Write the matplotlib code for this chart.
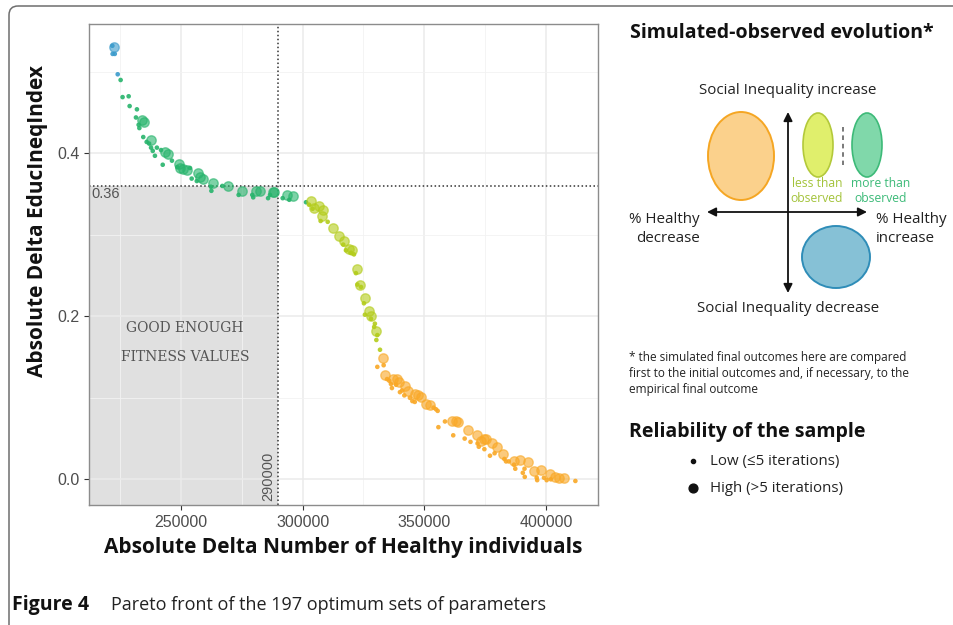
import numpy as np
import matplotlib.pyplot as plt
from matplotlib.patches import Ellipse, FancyBboxPatch, Rectangle

plt.rcParams['font.family'] = ['Open Sans', 'DejaVu Sans']

# Pareto front points
healthy = [222600, 221800, 221900, 222800, 224000, 225200,
           226000, 228500, 228900, 231900, 231500, 234000, 234700, 232600, 232900,
           234500, 237600, 235900, 236900, 237700, 238400, 239300, 240100, 241800,
           243600, 244700, 242500, 246300, 249100, 249600, 251000, 252300, 248500,
           253700, 256900, 257800, 259200, 254400, 256500, 263000, 262300, 262500,
           267000, 269300, 275000, 273700, 280700, 282600, 279300, 279700, 287700,
           288200, 285800, 286600, 293400, 295900, 291800, 294500, 301400,
           303400, 302600, 304800, 306600, 308200, 304100, 308100, 307400, 310300,
           312600, 314900, 317000, 316700, 319100, 320200, 317800, 319900, 321100,
           322200, 321900, 323600, 322500, 324000, 325800, 325200, 327400, 328000,
           325600, 328100, 329700, 329400, 330200, 330700, 330300, 331800,
           332900, 333300, 330700, 333700, 334700, 335600, 337100, 338600, 339600,
           336300, 336700, 338400, 342000, 340900, 340000, 343300, 341800, 346100,
           347500, 348600, 344100, 345100, 346100, 350700, 352300, 353800, 354800,
           355500, 358500, 361300, 362900, 363900, 355800, 361900, 368000, 366600,
           369000, 371500, 373300, 374700, 375400, 371900, 372400, 374700, 377700,
           379800, 377000, 378900, 382200, 382900, 383600, 384700, 387000, 389500,
           392600, 386900, 387400, 391200, 390500, 391300, 394900, 398100, 396200,
           396400, 401700, 399200, 400300, 402000, 403800, 405500, 407300, 412100]
educ = [0.531, 0.532, 0.522, 0.522, 0.497, 0.490,
        0.469, 0.470, 0.458, 0.454, 0.444, 0.441, 0.438, 0.435, 0.431,
        0.420, 0.416, 0.414, 0.412, 0.407, 0.403, 0.397, 0.407, 0.404,
        0.402, 0.399, 0.386, 0.391, 0.387, 0.382, 0.381, 0.380, 0.383,
        0.382, 0.376, 0.371, 0.369, 0.369, 0.366, 0.364, 0.359, 0.354,
        0.360, 0.360, 0.354, 0.349, 0.354, 0.354, 0.349, 0.346, 0.352,
        0.353, 0.345, 0.349, 0.349, 0.348, 0.345, 0.343, 0.340,
        0.341, 0.337, 0.333, 0.335, 0.330, 0.332, 0.323, 0.317, 0.316,
        0.309, 0.299, 0.293, 0.288, 0.283, 0.282, 0.281, 0.278, 0.276,
        0.258, 0.253, 0.238, 0.239, 0.236, 0.223, 0.216, 0.206, 0.201,
        0.202, 0.197, 0.191, 0.187, 0.182, 0.177, 0.171, 0.159,
        0.149, 0.140, 0.138, 0.128, 0.123, 0.121, 0.123, 0.123, 0.119,
        0.117, 0.112, 0.116, 0.114, 0.109, 0.107, 0.108, 0.103, 0.105,
        0.103, 0.101, 0.100, 0.096, 0.095, 0.093, 0.091, 0.088, 0.086,
        0.084, 0.071, 0.072, 0.071, 0.070, 0.064, 0.054, 0.060, 0.050,
        0.046, 0.054, 0.047, 0.049, 0.049, 0.044, 0.040, 0.037, 0.044,
        0.040, 0.029, 0.032, 0.031, 0.025, 0.022, 0.022, 0.023, 0.024,
        0.021, 0.018, 0.013, 0.013, 0.008, 0.003, 0.010, 0.011, 0.002,
        -0.001, 0.006, 0.002, -0.001, 0.000, 0.003, 0.002, 0.002, -0.002]
# 1 = high reliability (>5 iterations), 0 = low
high = [1, 0, 0, 0, 0, 0,
        0, 0, 0, 0, 0, 1, 1, 0, 0,
        0, 1, 0, 0, 0, 0, 0, 0, 0,
        1, 1, 0, 0, 1, 1, 1, 1, 0,
        0, 1, 1, 1, 0, 0, 1, 0, 0,
        0, 1, 1, 0, 1, 1, 0, 0, 1,
        1, 0, 0, 1, 1, 0, 0, 0,
        1, 0, 1, 1, 1, 0, 1, 0, 0,
        1, 1, 1, 0, 1, 1, 0, 0, 0,
        1, 0, 1, 0, 0, 1, 0, 1, 1,
        0, 0, 0, 0, 1, 0, 0, 0,
        1, 0, 0, 1, 0, 0, 1, 1, 1,
        0, 0, 0, 1, 0, 0, 1, 0, 1,
        1, 1, 0, 0, 0, 1, 1, 0, 0,
        0, 0, 1, 1, 1, 0, 0, 1, 0,
        0, 1, 1, 1, 1, 0, 0, 0, 1,
        1, 0, 0, 1, 0, 0, 0, 1, 1,
        1, 0, 0, 0, 0, 0, 1, 1, 0,
        0, 1, 0, 0, 0, 1, 1, 1, 0]
group = (['dec'] * 5 + ['more'] * 54 + ['less'] * 35 + ['worse'] * 72)

group_colors = {'dec': '#3a9acb', 'more': '#27b46c', 'less': '#b3cc1a', 'worse': '#f9a826'}

x_ticks = [250000, 300000, 350000, 400000]
y_ticks = [0.0, 0.2, 0.4]
x_cut = 290000
y_cut = 0.36

fig = plt.figure(figsize=(9.54, 6.25), dpi=100)
W, H = 954, 625

ax = fig.add_axes([89 / W, 1 - 505 / H, (598 - 89) / W, (505 - 24) / H])
ax.set_xlim(212200, 421400)
ax.set_ylim(-0.0315, 0.5587)

ax.set_xticks(x_ticks)
ax.set_yticks(y_ticks)
ax.set_xticks([225000, 275000, 325000, 375000], minor=True)
ax.set_yticks([0.1, 0.3, 0.5], minor=True)
ax.grid(which='major', color='#ebebeb', lw=1.1, zorder=0)
ax.grid(which='minor', color='#f2f2f2', lw=0.6, zorder=0)
ax.tick_params(which='minor', length=0)
ax.tick_params(which='major', length=3.5, color='#333333', labelcolor='#4d4d4d',
               labelsize=11.5)
for lab in ax.get_xticklabels() + ax.get_yticklabels():
    lab.set_family(['Liberation Sans', 'DejaVu Sans'])
for sp in ax.spines.values():
    sp.set_color('#8c8c8c')
    sp.set_linewidth(1.0)

# "good enough" region
ax.add_patch(Rectangle((212200, -0.0315), x_cut - 212200, y_cut + 0.0315,
                       facecolor='#b0b0b0', alpha=0.38, edgecolor='none', zorder=1))
ax.axvline(x_cut, color='#333333', lw=1.1, ls=(0, (1, 1.6)), zorder=2)
ax.axhline(y_cut, color='#333333', lw=1.1, ls=(0, (1, 1.6)), zorder=2)
ax.text(213300, 0.350, '0.36', color='#555555', fontsize=10.5, va='center',
        family=['Liberation Sans', 'DejaVu Sans'])
ax.text(288600, -0.027, '290000', color='#555555', fontsize=10.5, rotation=90,
        ha='right', va='bottom', family=['Liberation Sans', 'DejaVu Sans'])
ax.text(251600, 0.186, 'GOOD ENOUGH', color='#555555', fontsize=10, ha='center',
        va='center', family=['DejaVu Serif'])
ax.text(251600, 0.150, 'FITNESS VALUES', color='#555555', fontsize=10, ha='center',
        va='center', family=['DejaVu Serif'])

hx = np.array(healthy)
ey = np.array(educ)
hb = np.array(high)
gr = np.array(group)
for g, c in group_colors.items():
    m = (gr == g) & (hb == 0)
    ax.scatter(hx[m], ey[m], s=11, color=c, alpha=0.9, edgecolors='none', zorder=3)
    m = (gr == g) & (hb == 1)
    ax.scatter(hx[m], ey[m], s=46, facecolor=c, alpha=0.6, edgecolors=c,
               linewidths=1.0, zorder=3)

ax.set_xlabel('Absolute Delta Number of Healthy individuals', fontsize=15,
              fontweight='bold', color='#111111', va='center')
ax.set_ylabel('Absolute Delta EducIneqIndex', fontsize=15, fontweight='bold',
              color='#111111', va='center')
ax.xaxis.set_label_coords(0.5, (505 - 548) / 481)
ax.yaxis.set_label_coords((38 - 89) / 509, 0.5 + (264.5 - 221) / 481)

# overlay in pixel coordinates for the legend panel, frame and caption
ov = fig.add_axes([0, 0, 1, 1], zorder=5)
ov.set_xlim(0, W)
ov.set_ylim(H, 0)
ov.axis('off')
ov.patch.set_alpha(0)

ov.add_patch(FancyBboxPatch((9, 6), 1000, 700, boxstyle='round,pad=0,rounding_size=9',
                            facecolor='none', edgecolor='#6e6e6e', lw=1.1, clip_on=False))

ov.text(630, 33, 'Simulated-observed evolution*', fontsize=14, fontweight='bold',
        color='#111111', va='center')
ov.text(788, 91, 'Social Inequality increase', fontsize=10.9, ha='center', va='center',
        color='#222222')
ov.text(788, 308, 'Social Inequality decrease', fontsize=10.9, ha='center', va='center',
        color='#222222')

ov.add_patch(Ellipse((741, 156), 66, 88, facecolor='#fbd18c', edgecolor='#f5a623', lw=1.4))
ov.add_patch(Ellipse((818, 145), 30, 64, facecolor='#e0ef6c', edgecolor='#b3c93a', lw=1.2))
ov.add_patch(Ellipse((867, 145), 30, 64, facecolor='#80d8aa', edgecolor='#3dba78', lw=1.2))
ov.add_patch(Ellipse((836, 257), 68, 62, facecolor='#86c1d6', edgecolor='#2f8db8', lw=1.4))
ov.plot([843, 843], [127, 165], color='#555555', lw=1.1, ls=(0, (3, 2.5)))

ov.annotate('', xy=(788, 112), xytext=(788, 293),
            arrowprops=dict(arrowstyle='<|-|>', color='#111111', lw=1.3,
                            mutation_scale=13, shrinkA=0, shrinkB=0))
ov.annotate('', xy=(707, 212), xytext=(867, 212),
            arrowprops=dict(arrowstyle='<|-|>', color='#111111', lw=1.3,
                            mutation_scale=13, shrinkA=0, shrinkB=0))

ov.text(817, 191, 'less than\nobserved', fontsize=8.7, ha='center', va='center',
        color='#a3c33a', linespacing=1.25)
ov.text(881, 191, 'more than\nobserved', fontsize=8.7, ha='center', va='center',
        color='#3cba78', linespacing=1.25)
ov.text(700, 229, '% Healthy\ndecrease', fontsize=10.9, ha='right', va='center',
        color='#222222', linespacing=1.45)
ov.text(876, 229, '% Healthy\nincrease', fontsize=10.9, ha='left', va='center',
        color='#222222', linespacing=1.45)

ov.text(629, 374, '* the simulated final outcomes here are compared\n'
        'first to the initial outcomes and, if necessary, to the\n'
        'empirical final outcome', fontsize=8.5, va='center', color='#222222',
        linespacing=1.3)
ov.text(629, 432, 'Reliability of the sample', fontsize=14, fontweight='bold',
        color='#111111', va='center')
ov.scatter([693], [461], s=9, color='#111111')
ov.scatter([693], [488], s=40, color='#111111')
ov.text(710, 461, 'Low (≤5 iterations)', fontsize=10.8, va='center', color='#222222')
ov.text(710, 488, 'High (>5 iterations)', fontsize=10.8, va='center', color='#222222')

ov.text(12, 605, 'Figure 4', fontsize=14, fontweight='bold', va='center', color='#111111')
ov.text(111, 605, 'Pareto front of the 197 optimum sets of parameters', fontsize=13,
        va='center', color='#222222')

fig.savefig('out.png', dpi=100)
